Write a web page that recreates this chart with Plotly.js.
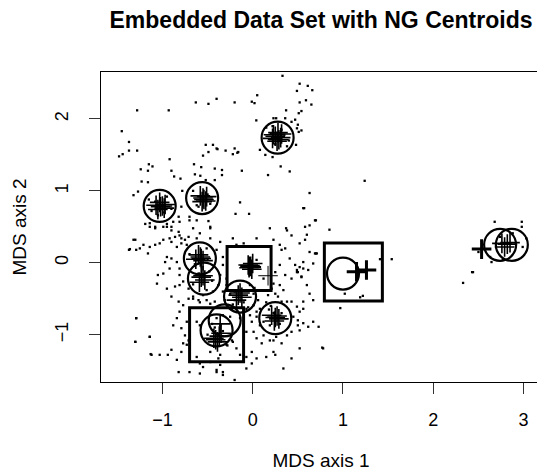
<!DOCTYPE html>
<html>
<head>
<meta charset="utf-8">
<script src="https://cdn.plot.ly/plotly-3.0.1.min.js"></script>
<style>
html,body{margin:0;padding:0;overflow:hidden;background:#fff;}
#chart{width:560px;height:471px;}
</style>
</head>
<body>
<div id="chart"></div>
<script>
// Embedded data points (MDS axis 1, MDS axis 2)
const ptX = [
0.33,0.52,0.61,0.66,0.49,0.05,0.59,0.65,0.52,0.54,0.51,0.37,0.02,-0.01,-0.20,-0.40,-0.49,-0.63,-1.28,-0.93,
0.04,0.23,0.26,0.36,0.43,0.47,0.50,0.49,0.54,0.51,-1.45,-1.37,-1.28,-1.37,-1.48,-1.44,-0.52,-0.44,-0.40,-0.39,
-0.55,-0.49,-0.30,-0.20,-0.17,-0.22,-0.16,0.08,0.14,0.22,0.48,-0.92,-1.15,-1.24,-1.11,-1.16,-0.90,-0.65,-0.57,-0.42,
-0.34,-0.34,-0.64,-0.58,-0.12,0.17,0.31,0.41,-0.87,-0.80,-0.52,-0.42,-1.23,-1.16,-1.27,-0.78,0.63,0.57,-0.14,-0.19,
-0.04,0.70,0.58,0.63,0.37,-0.47,-0.49,-0.62,-0.70,-0.79,-0.82,-0.88,-0.95,-0.90,-0.99,-1.08,-1.14,-1.19,-0.70,-0.81,
-1.32,
-1.14,-1.08,-0.95,-0.90,-0.82,-0.81,-0.86,-0.92,-0.79,-0.75,-0.71,-0.66,-0.47,-0.62,-0.585,-0.73,-0.79,-0.84,-0.90,-0.99,
-1.03,-1.08,-1.14,-1.21,-1.25,-1.29,-1.36,-1.30,-1.16,-0.95,-0.90,-0.97,-0.84,-0.92,-0.99,-1.05,-0.81,-0.81,-0.77,-0.81,
-0.86,-0.71,-0.66,-0.60,-0.585,-0.55,-0.51,-0.44,-0.38,-0.36,-0.33,-0.33,-0.40,-0.51,-0.36,-0.47,-0.22,-0.18,-0.10,0.043,
0.19,0.38,0.43,0.23,0.30,0.36,0.52,0.58,0.63,0.69,0.32,0.41,0.47,0.49,0.54,0.615,0.43,0.36,0.30,0.34,
0.25,0.17,0.21,0.01,-0.03,0.06,-0.07,-0.03,-0.01,0.01,0.043,0.12,0.19,0.26,0.32,0.38,0.43,0.50,0.56,0.615,
0.67,0.73,0.52,0.56,0.49,0.38,0.32,0.043,0.08,-0.10,-0.14,-0.22,-0.18,-0.14,-0.07,-0.01,0.043,0.15,0.23,0.25,
0.34,0.43,0.52,0.78,-0.07,-0.20,-0.33,-0.36,-0.40,-0.38,-0.47,-0.55,-0.585,-0.62,-0.73,-0.79,-0.84,-0.90,-0.94,-1.03,
-1.12,-1.30,-1.29,-1.14,-1.06,-0.95,-0.90,-0.82,-0.77,-0.81,-0.84,-0.88,-0.79,-0.75,-0.71,-0.77,-0.73,-0.71,-0.66,-0.23,
-0.36,-0.29,-0.23,-0.47,-0.36,-0.82,-0.70,-0.585,-0.62,-0.585,-0.51,-0.47,-0.42,-0.31,-0.25,-0.20,-0.29,-0.29,-0.33,0.49,
0.50,0.08,0.043,0.23,0.12,0.25,0.30,0.52,0.56,0.67,0.60,0.43,0.45,0.50,0.52,-0.01,0.23,0.10,-0.10,-0.07,
0.23,0.19,0.12,0.043,0.01,0.08,0.15,0.28,-0.40,-0.36,-0.33,
1.24,0.85,1.54,0.71,0.97,0.77,1.22,1.41,1.02,0.56,0.69,0.60,0.70,0.56,0.54,0.56,1.19,0.63,0.67,
2.33,2.43,2.68,2.98,2.98,3.03,2.50,2.63,2.77,2.99,2.88,2.74,2.44,2.645,
-1.29,-1.30,-1.14,-1.13,-1.37,-1.32,-0.40,-0.33,
0.20,0.30,0.35,0.25,0.18,0.32,0.22,0.40,0.15,0.38,
-1.08,-0.98,-1.12,-0.95,-1.05,-0.90,-1.15,-0.62,-0.50,-0.47,-0.60,-0.66,
-0.70,-0.64,-0.50,-0.48,-0.66,-0.60,-0.45,-0.20,-0.10,0.02,-0.22,-0.05,
0.18,0.32,0.30,0.20,-0.45,-0.33,-0.28,-0.50,-0.25,-0.42
];
const ptY = [
2.60,2.49,2.46,2.40,2.39,2.33,2.26,2.20,2.23,2.11,2.08,2.12,2.22,2.24,2.23,2.28,2.21,2.23,2.12,2.12,
1.98,2.01,2.01,2.01,1.96,1.99,1.92,1.87,1.84,1.82,1.83,1.68,1.56,1.56,1.48,1.51,1.64,1.64,1.59,1.58,
1.49,1.54,1.56,1.59,1.53,1.51,1.54,1.57,1.50,1.47,1.64,1.44,1.37,1.30,1.34,1.28,1.28,1.37,1.33,1.31,
1.29,1.22,1.23,1.21,1.28,1.22,1.34,1.27,1.20,1.17,1.15,1.15,1.13,1.12,0.99,1.00,0.97,0.76,0.84,0.68,
0.68,0.59,0.50,0.52,0.48,0.50,0.58,0.59,0.64,0.78,0.64,0.57,0.54,0.50,0.50,0.50,0.55,0.54,0.59,0.57,
0.94,
0.50,0.48,0.50,0.45,0.43,0.38,0.36,0.34,0.34,0.32,0.36,0.48,0.48,0.34,0.41,0.25,0.27,0.22,0.29,0.32,
0.27,0.25,0.22,0.25,0.20,0.18,0.19,0.32,0.13,0.08,0.06,0.01,0.01,-0.08,-0.15,-0.17,-0.08,-0.17,-0.26,-0.31,
-0.33,-0.36,-0.50,-0.52,-0.55,-0.45,-0.38,-0.40,-0.31,-0.17,-0.03,0.08,0.18,0.20,0.29,0.34,0.34,0.25,0.27,0.34,
0.48,0.45,0.38,0.32,0.25,0.20,0.27,0.32,0.15,0.13,0.18,0.06,-0.03,-0.13,-0.19,-0.10,-0.22,-0.17,-0.31,-0.38,
-0.43,-0.45,-0.36,-0.43,-0.31,-0.52,-0.64,-0.73,-0.82,-0.96,-1.05,-1.01,-1.08,-1.03,-1.12,-1.01,-0.96,-0.87,-0.84,-0.89,
-0.82,-0.89,-0.68,-0.64,-0.61,-0.54,-0.54,-0.75,-0.87,-0.68,-0.77,-1.10,-1.19,-1.28,-1.31,-1.24,-1.33,-1.31,-1.24,-1.28,
-1.47,-1.33,-1.19,-1.19,-1.47,-1.63,-1.52,-1.42,-1.52,-1.33,-1.38,-1.45,-1.40,-1.31,-1.14,-1.24,-1.35,-1.21,-1.28,-1.28,
-1.28,-1.10,-0.77,-1.03,-0.29,-0.36,-0.47,-0.54,-0.59,-0.68,-0.77,-0.87,-0.91,-1.01,-1.08,-1.12,-0.82,-0.50,-0.47,-0.64,
-1.03,-1.14,-1.08,-1.24,-1.28,-1.52,-1.52,-1.54,-0.82,-0.87,-0.52,-0.57,-0.54,-0.52,-0.43,-0.52,-0.31,-0.22,-0.40,-0.10,
-0.13,-0.06,0.04,-0.29,-0.22,-0.13,-0.03,-0.06,-0.08,-0.01,-0.31,-0.54,-0.75,-0.80,-0.94,-1.40,-1.08,-1.12,-0.87,-0.96,
-0.70,-0.87,-0.82,-0.68,-0.59,-0.64,-0.55,-0.47,-0.77,-0.87,-0.73,
1.14,0.46,0.05,0.13,-0.63,-1.18,-0.46,0.05,-0.43,0.76,0.59,0.39,0.13,0.01,-0.20,-0.54,-0.48,-0.43,-0.52,
-0.28,-0.13,0.57,0.57,0.50,0.34,0.15,0.08,0.04,0.22,0.41,0.36,-0.13,0.01,
-0.77,-1.10,-1.03,-1.27,0.18,0.32,-1.49,-1.56,
1.80,1.70,1.78,1.65,1.72,1.85,1.90,1.70,1.88,1.62,
0.85,0.70,0.72,0.92,0.66,0.75,0.88,0.80,0.95,0.82,0.78,1.00,
0.12,-0.02,0.05,-0.12,-0.30,-0.15,-0.25,-0.40,-0.55,-0.35,-0.58,-0.62,
-0.65,-0.70,-0.85,-0.60,-0.85,-0.95,-1.15,-1.00,-0.75,-0.90,-1.18,-0.80
];

// NG centroid trail markers (+)
const crossX = [0.25,0.31,0.27,0.22,0.32,0.28,0.23,0.29,
  -1.02,-1.07,-0.98,-1.03,-1.05,-0.97,-1.00,
  -0.55,-0.52,-0.58,-0.51,-0.56,-0.54,
  -0.58,-0.63,-0.55,-0.60,-0.57,
  -0.57,-0.53,-0.59,-0.55,
  -0.16,-0.12,-0.18,-0.14,
  0.25,0.21,0.29,0.24,0.27,
  -0.37,-0.43,-0.35,-0.39,-0.36,-0.41,
  -0.01,-0.05,0.00,-0.04,
  2.76,2.82,2.79,2.85];
const crossY = [1.76,1.74,1.69,1.73,1.79,1.81,1.78,1.71,
  0.78,0.80,0.76,0.84,0.74,0.81,0.79,
  0.90,0.86,0.93,0.92,0.85,0.88,
  0.08,0.05,0.03,0.11,0.06,
  -0.20,-0.24,-0.27,-0.18,
  -0.45,-0.48,-0.52,-0.42,
  -0.76,-0.73,-0.78,-0.81,-0.74,
  -1.02,-1.05,-0.98,-1.10,-0.85,-1.07,
  -0.09,-0.03,-0.01,-0.07,
  0.27,0.26,0.22,0.28];
// heavy + markers
const boldX = [-0.03,1.15,1.26,2.535];
const boldY = [-0.05,-0.125,-0.10,0.19];
// thin + marker
const thinX = [0.17];
const thinY = [-0.18];

// final centroids (circles)
const circX = [0.276,-1.03,-0.56,-0.585,-0.54,-0.14,0.25,-0.40,-0.31,1.00,2.74,2.87];
const circY = [1.74,0.79,0.90,0.06,-0.22,-0.47,-0.77,-0.94,-0.80,-0.15,0.25,0.25];

// squares
const sqX = [-0.04,-0.40,1.115];
const sqY = [-0.08,-1.00,-0.13];
const sqSpread = [44,54,58];

const traces = [
  {x:ptX, y:ptY, type:'scatter', mode:'markers', hoverinfo:'skip',
   marker:{symbol:'square', size:2.3, color:'#000', line:{width:0}}},
  {x:crossX, y:crossY, type:'scatter', mode:'markers', hoverinfo:'skip',
   marker:{symbol:'cross-thin-open', size:14, color:'#000', line:{width:1.6, color:'#000'}}},
  {x:boldX, y:boldY, type:'scatter', mode:'markers', hoverinfo:'skip',
   marker:{symbol:'cross-thin-open', size:14, color:'#000', line:{width:3, color:'#000'}}},
  {x:thinX, y:thinY, type:'scatter', mode:'markers', hoverinfo:'skip',
   marker:{symbol:'cross-thin-open', size:14, color:'#000', line:{width:1, color:'#000'}}},
  {x:circX, y:circY, type:'scatter', mode:'markers', hoverinfo:'skip',
   marker:{symbol:'circle-open', size:32, color:'#000', line:{width:2.2, color:'#000'}}},
  {x:sqX, y:sqY, type:'scatter', mode:'markers', hoverinfo:'skip',
   marker:{symbol:'square-open', size:sqSpread, color:'#000', opacity:1, line:{width:3, color:'#000'}}}
];

const font = 'Liberation Sans, Arial, Helvetica, sans-serif';
const layout = {
  width:560, height:471,
  margin:{l:101, r:19, t:72, b:89, pad:0},
  paper_bgcolor:'#fff', plot_bgcolor:'#fff',
  showlegend:false,
  font:{family:font, size:18, color:'#000'},
  title:{text:'<b>Embedded Data Set with NG Centroids</b>', font:{family:font, size:23, color:'#000'},
         x:321/560, xref:'container', xanchor:'center', y:1-20/471, yref:'container', yanchor:'middle'},
  xaxis:{range:[-1.68,3.193], tickvals:[-1,0,1,2,3], ticktext:['\u22121','0','1','2','3'],
         ticks:'outside', ticklen:11, tickwidth:1, tickcolor:'#333',
         showline:true, mirror:true, linecolor:'#000', linewidth:1,
         showgrid:false, zeroline:false, ticklabelstandoff:10,
         title:{text:'MDS axis 1', font:{size:19}, standoff:28}},
  yaxis:{range:[-1.658,2.653], tickvals:[-1,0,1,2], ticktext:['\u22121','0','1','2'], tickangle:-90,
         ticks:'outside', ticklen:11, tickwidth:1, tickcolor:'#333',
         showline:true, mirror:true, linecolor:'#000', linewidth:1,
         showgrid:false, zeroline:false, ticklabelstandoff:14,
         title:{text:'MDS axis 2', font:{size:19}, standoff:20}}
};

Plotly.newPlot('chart', traces, layout, {displayModeBar:false, staticPlot:true});
</script>
</body>
</html>
